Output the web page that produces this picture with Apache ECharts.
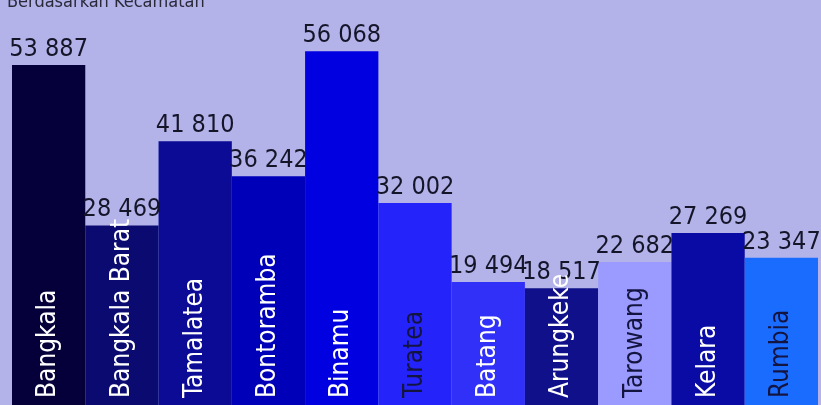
<!DOCTYPE html>
<html>
<head>
<meta charset="utf-8">
<script src="https://cdn.jsdelivr.net/npm/echarts@6/dist/echarts.min.js"></script>
<style>
html,body{margin:0;padding:0;background:#b3b3ea;}
#chart{width:821px;height:405px;}
</style>
</head>
<body>
<div id="chart"></div>
<script>
const categories = ['Bangkala','Bangkala Barat','Tamalatea','Bontoramba','Binamu','Turatea','Batang','Arungkeke','Tarowang','Kelara','Rumbia'];
const values = [53887, 28469, 41810, 36242, 56068, 32002, 19494, 18517, 22682, 27269, 23347];
const valueLabels = ['53 887','28 469','41 810','36 242','56 068','32 002','19 494','18 517','22 682','27 269','23 347'];
const barColors = ['#05003a','#0a0a70','#0b0b96','#0000b8','#0000e0','#2424fa','#3030f8','#10108a','#9a9aff','#0a0aa5','#1a6cff'];
const nameColors = ['#ffffff','#ffffff','#ffffff','#ffffff','#ffffff','#141440','#ffffff','#ffffff','#141440','#ffffff','#141440'];

const chart = echarts.init(document.getElementById('chart'));
const font = '"DejaVu Sans Condensed", "Liberation Sans Narrow", sans-serif';
chart.setOption({
  backgroundColor: '#b3b3ea',
  animation: false,
  title: {
    text: 'Berdasarkan Kecamatan',
    left: 2, top: -12,
    textStyle: {color: '#2a2a3a', fontSize: 18, fontWeight: 'normal', fontFamily: font}
  },
  grid: {left: 12, right: 3, top: 0, bottom: 0},
  xAxis: {
    type: 'category', data: categories,
    axisLine: {show: false}, axisTick: {show: false}, axisLabel: {show: false}
  },
  yAxis: {
    type: 'value', min: 0, max: 64200,
    show: false, splitLine: {show: false}
  },
  series: [
    {
      type: 'bar',
      data: values.map((v, i) => ({value: v, itemStyle: {color: barColors[i]}})),
      barCategoryGap: 0,
      barGap: '-100%',
      label: {
        show: true, position: 'top', distance: 3,
        formatter: p => valueLabels[p.dataIndex],
        color: '#15152a', fontSize: 25, fontFamily: font
      }
    },
    {
      type: 'bar',
      data: values.map((v, i) => ({value: v, label: {color: nameColors[i]}})),
      barCategoryGap: 0,
      barGap: '-100%',
      itemStyle: {color: 'transparent'},
      silent: true,
      z: 3,
      label: {
        show: true, position: 'insideBottom', rotate: 90,
        align: 'left', verticalAlign: 'middle', distance: 7,
        formatter: p => categories[p.dataIndex],
        fontSize: 26, fontFamily: font
      }
    }
  ]
});
</script>
</body>
</html>
